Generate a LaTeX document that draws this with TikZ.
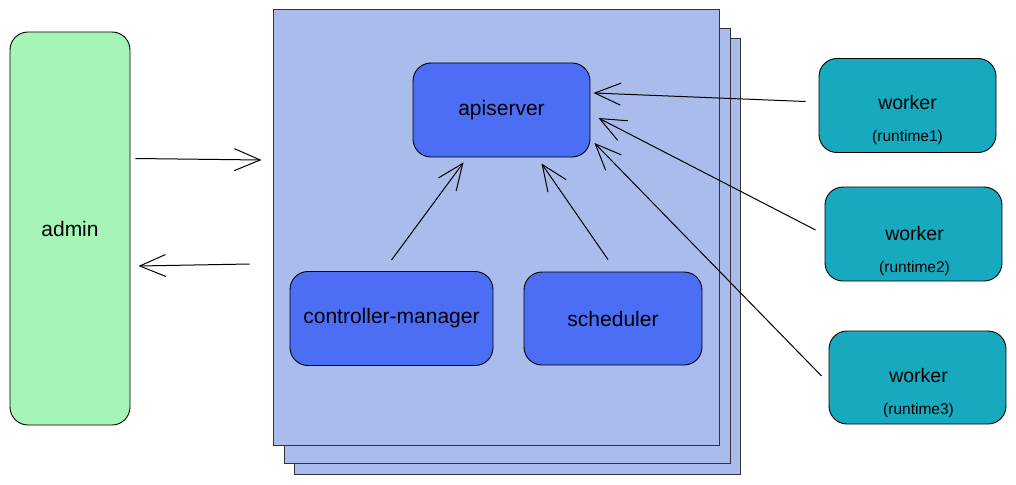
\documentclass[tikz,border=0pt]{standalone}
\usepackage{fontspec}
\setmainfont{Liberation Sans}
\usetikzlibrary{arrows.meta}
\definecolor{admingreen}{HTML}{A6F5B6}
\definecolor{planeblue}{HTML}{A9BCEC}
\definecolor{compblue}{HTML}{4C6EF5}
\definecolor{workercyan}{HTML}{17AABF}
\begin{document}
\begin{tikzpicture}[x=1pt,y=-1pt,
  box/.style={draw=black, line width=0.9pt, rounded corners=18pt, inner sep=0pt, font=\fontsize{21}{25}\selectfont},
  wtext/.style={align=center, inner sep=0pt, font=\fontsize{19.5}{23}\selectfont},
  plane/.style={draw=black!80, line width=0.9pt, fill=planeblue, inner sep=0pt},
  arr/.style={-{Straight Barb[length=26pt,width=22pt]}, line width=1pt}]
\useasboundingbox (0,0) rectangle (1016,484);
\node[plane, minimum width=446pt, minimum height=436pt] (back2) at (517,256) {};
\node[plane, minimum width=446pt, minimum height=435pt] (back1) at (507,245.5) {};
\node[plane, minimum width=446pt, minimum height=436pt] (plane) at (496,227) {};
\node[box, fill=admingreen, minimum width=120pt, minimum height=393pt] (admin) at (70,228.5) {admin};
\node[box, fill=compblue, minimum width=177pt, minimum height=94pt] (api) at (501.5,110) {apiserver};
\node[box, fill=compblue, minimum width=203pt, minimum height=94pt] (cm) at (391.5,318.5) {controller-manager};
\node[box, fill=compblue, minimum width=178pt, minimum height=93pt] (sched) at (613,318.5) {scheduler};
\node[box, fill=workercyan, minimum width=177pt, minimum height=94pt] (w1) at (907.5,105.5) {};
\node[box, fill=workercyan, minimum width=177pt, minimum height=94pt] (w2) at (913.5,234) {};
\node[box, fill=workercyan, minimum width=177pt, minimum height=93pt] (w3) at (917.5,377.5) {};
\node[wtext] (w1t) at ([yshift=-15pt]w1.center) {worker\\[9pt]{\fontsize{15.5}{18}\selectfont(runtime1)}};
\node[wtext] (w2t) at ([xshift=1pt,yshift=-17pt]w2.center) {worker\\[9pt]{\fontsize{15.5}{18}\selectfont(runtime2)}};
\node[wtext] (w3t) at ([xshift=1pt,yshift=-16pt]w3.center) {worker\\[9pt]{\fontsize{15.5}{18}\selectfont(runtime3)}};
\draw[arr] ([xshift=5pt,yshift=70pt]admin.east) -- ([xshift=-11pt,yshift=67pt]plane.west);
\draw[arr] ([xshift=-23pt,yshift=-37pt]plane.west) -- ([xshift=8pt,yshift=-37.5pt]admin.east);
\draw[arr] ([yshift=11pt]cm.north) -- ([xshift=-38pt,yshift=-5pt]api.south);
\draw[arr] ([xshift=-5pt,yshift=12pt]sched.north) -- ([xshift=40pt,yshift=-6pt]api.south);
\draw[arr] ([xshift=-13pt,yshift=4pt]w1.west) -- ([xshift=3pt,yshift=17pt]api.east);
\draw[arr] ([xshift=-9pt,yshift=4pt]w2.west) -- ([xshift=8pt,yshift=-8pt]api.east);
\draw[arr] ([xshift=-7pt,yshift=1.5pt]w3.west) -- ([xshift=4pt,yshift=-33pt]api.east);
\end{tikzpicture}
\end{document}
